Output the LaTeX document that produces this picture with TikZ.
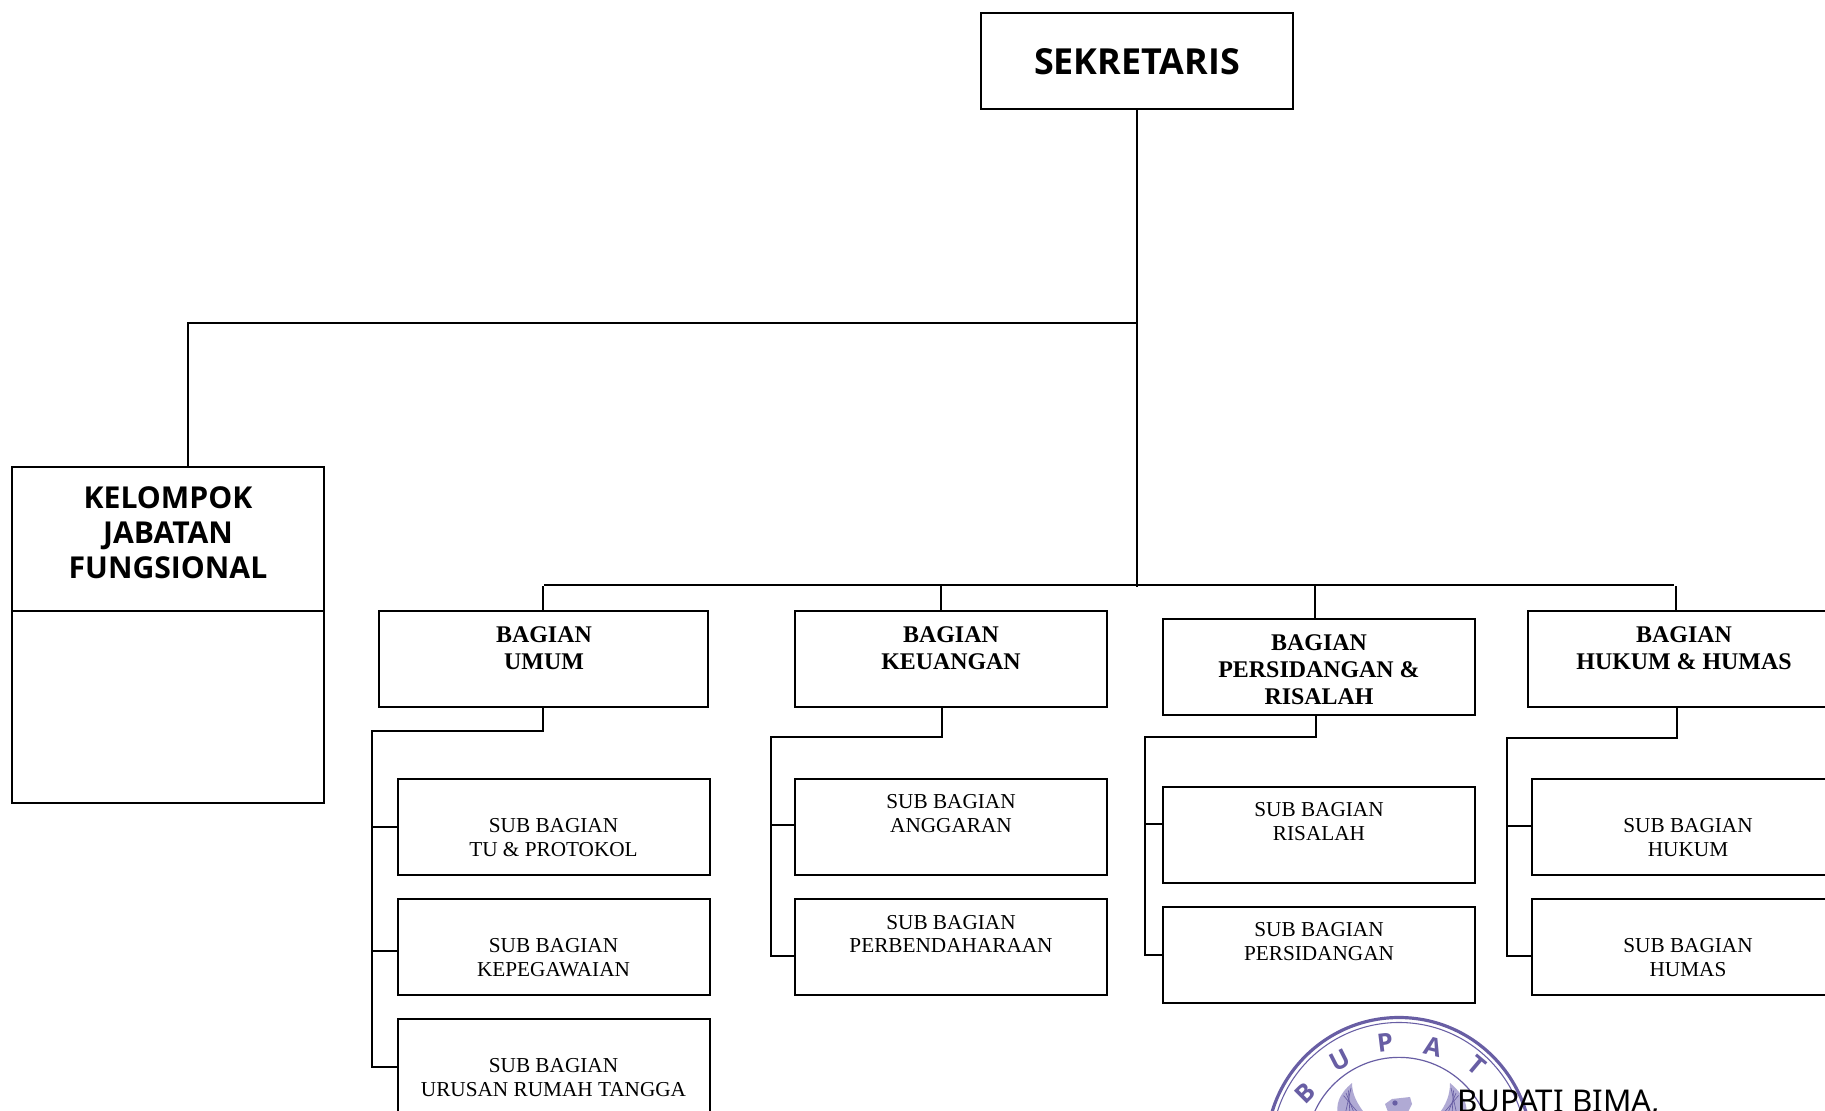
\documentclass[tikz,border=0pt]{standalone}
\usepackage{fontspec}
\setmainfont{Liberation Serif}
\newfontfamily\tah{Open Sans}
\newfontfamily\bup{Noto Sans}
\definecolor{seal}{RGB}{104,94,164}
\definecolor{seallt}{RGB}{176,170,212}
\tikzset{
 x=0.0264583cm,y=-0.0264583cm,
 boxp/.style={draw=black,line width=1.4pt,fill=white},
 lnk/.style={draw=black,line width=1.4pt,line cap=rect},
 head/.style={font=\fontsize{18}{20.2}\bfseries\selectfont,align=center,inner sep=0pt,anchor=center},
 subt/.style={font=\fontsize{16}{18}\selectfont,align=center,inner sep=0pt,anchor=center},
 tahl/.style={font=\fontsize{22.7}{26.5}\tah\bfseries\selectfont,align=center,inner sep=0pt,anchor=center},
 sealtxt/.style={font=\fontsize{19}{19}\tah\bfseries\selectfont,text=seal,inner sep=0pt,anchor=center},
}
\newcommand{\rect}[5]{\node[boxp,rectangle,inner sep=0pt,outer sep=0pt,anchor=north west,minimum width=#4*0.75pt+0.75pt,minimum height=#5*0.75pt] (#1) at (#2,#3) {};}
\begin{document}
\begin{tikzpicture}
\useasboundingbox (0,0) rectangle (1825,1111);
\clip (0,0) rectangle (1825,1111);
\fill[white] (0,0) rectangle (1825,1111);
% boxes
\rect{sek}{981}{13}{312}{96}
\rect{kel}{12}{467}{312}{337}
\rect{umum}{379}{611}{329}{96}
\rect{keu}{795}{611}{312}{96}
\rect{per}{1163}{619}{312}{96}
\rect{huk}{1528}{611}{312}{96}
\rect{su1}{398}{779}{312}{96}
\rect{su2}{398}{899}{312}{96}
\rect{su3}{398}{1019}{312}{96}
\rect{sk1}{795}{779}{312}{96}
\rect{sk2}{795}{899}{312}{96}
\rect{sp1}{1163}{787}{312}{96}
\rect{sp2}{1163}{907}{312}{96}
\rect{sh1}{1532}{779}{312}{96}
\rect{sh2}{1532}{899}{312}{96}
\coordinate (kelA) at (12,611); \coordinate (kelB) at (325,611);
\draw[lnk,line cap=butt] (kelA) -- (kelB);
% trunk
\coordinate (ya) at (0,323);
\coordinate (yb) at (0,587);
\coordinate (j1) at (sek.south |- ya);
\coordinate (j2) at (sek.south |- yb);
\coordinate (ktop) at (188,467);
\coordinate (kj) at (188,323);
\coordinate (b1) at (544,585);
\coordinate (b2) at (1674,585);
\draw[lnk,line cap=butt] (sek.south) -- (j2);
\draw[lnk] (j1) -- (kj) -- (ktop);
\draw[lnk,line cap=butt] (b1) -- (b2);
\draw[lnk,line cap=butt] (543,586) -- (543,611);
\draw[lnk,line cap=butt] (941,585) -- (941,611);
\draw[lnk,line cap=butt] (1315,585) -- (1315,619);
\draw[lnk,line cap=butt] (1676,586) -- (1676,611);
% umum tree
\draw[lnk] (543,707) -- (543,731) -- (372,731) -- (372,1067) -- (398,1067);
\draw[lnk] (372,827) -- (398,827);
\draw[lnk] (372,951) -- (398,951);
% keuangan
\draw[lnk] (942,707) -- (942,737) -- (771,737) -- (771,956) -- (795,956);
\draw[lnk] (771,825) -- (795,825);
% persidangan
\draw[lnk] (1316,715) -- (1316,737) -- (1145,737) -- (1145,955) -- (1163,955);
\draw[lnk] (1145,824) -- (1163,824);
% hukum
\draw[lnk] (1677,707) -- (1677,738) -- (1507,738) -- (1507,956) -- (1532,956);
\draw[lnk] (1507,826) -- (1532,826);
% labels
\node[font=\fontsize{27}{30}\tah\bfseries\selectfont,inner sep=0pt] (t0) at (1137,62) {SEKRETARIS};
\node[tahl] (t1) at (168,532.5) {KELOMPOK\\JABATAN\\FUNGSIONAL};
\node[head] (t2) at (544,648.5) {BAGIAN\\UMUM};
\node[head] (t3) at (951,648.5) {BAGIAN\\KEUANGAN};
\node[head] (t4) at (1319,670) {BAGIAN\\PERSIDANGAN \&\\RISALAH};
\node[head] (t5) at (1684,648.5) {BAGIAN\\HUKUM \& HUMAS};
\node[subt] (a1) at (553.5,838) {SUB BAGIAN\\TU \& PROTOKOL};
\node[subt] (a2) at (553.5,958) {SUB BAGIAN\\KEPEGAWAIAN};
\node[subt] (a3) at (553.5,1078) {SUB BAGIAN\\URUSAN RUMAH TANGGA};
\node[subt] (b4) at (951,814) {SUB BAGIAN\\ANGGARAN};
\node[subt] (b5) at (951,934) {SUB BAGIAN\\PERBENDAHARAAN};
\node[subt] (c1) at (1319,822) {SUB BAGIAN\\RISALAH};
\node[subt] (c2) at (1319,942) {SUB BAGIAN\\PERSIDANGAN};
\node[subt] (d1) at (1688,838) {SUB BAGIAN\\HUKUM};
\node[subt] (d2) at (1688,958) {SUB BAGIAN\\HUMAS};
% seal
\coordinate (sc) at (1399,1150);
\draw[seal,line width=2.4pt] (1399,1150) circle [radius=133*0.75pt];
\draw[seal,line width=0.8pt] (1399,1150) circle [radius=128*0.75pt];
\draw[seal,line width=0.9pt] (1399,1150) circle [radius=93*0.75pt];
\node[sealtxt,rotate=45] (s1) at (1305,1093) {B};
\node[sealtxt,rotate=27] (s2) at (1340,1060) {U};
\node[sealtxt,rotate=7] (s3) at (1385,1043) {P};
\node[sealtxt,rotate=-14] (s4) at (1433,1047) {A};
\node[sealtxt,rotate=-40] (s5) at (1477,1065) {T};
% wings and head
\fill[seallt] (1352,1083) .. controls (1338,1095) and (1336,1105) .. (1338,1115) -- (1366,1115) .. controls (1358,1105) and (1352,1095) .. (1352,1083) -- cycle;
\fill[seallt] (1450,1083) .. controls (1464,1095) and (1468,1105) .. (1466,1115) -- (1438,1115) .. controls (1446,1105) and (1450,1095) .. (1450,1083) -- cycle;
\foreach \i in {0,5,10,15}{\draw[seal,line width=0.5pt] (1351-\i*0.5,1088+\i*0.5) -- (1345+\i,1115);
 \draw[seal,line width=0.5pt] (1451+\i*0.5,1088+\i*0.5) -- (1457-\i,1115);}
\fill[seallt] (1385,1104) -- (1392,1099) -- (1410,1097) -- (1412,1104) -- (1408,1112) -- (1388,1112) -- cycle;
\fill[seal] (1395,1103) circle [radius=2pt];
\node[font=\fontsize{23.6}{25}\bup\selectfont,anchor=base west,inner sep=0pt] (bup) at (1457,1112) {BUPATI BIMA,};
\end{tikzpicture}
\end{document}
